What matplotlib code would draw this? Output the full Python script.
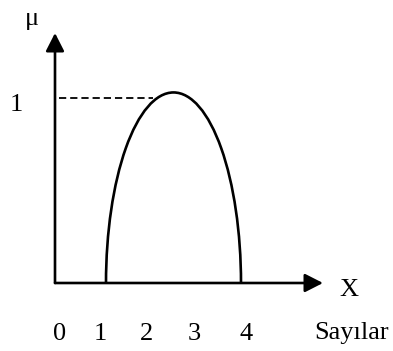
import matplotlib
matplotlib.use("Agg")
import matplotlib.pyplot as plt
from matplotlib.patches import Arc

# Data
x_tick_labels = ["0", "1", "2", "3", "4"]
support_left = 1.0
support_right = 4.0
peak_mu = 1.03
mu_level = 1.0
y_axis_label = "\u03bc"
x_axis_label = "X"
x_name = "Say\u0131lar"

# Layout (pixel mapping: x_px = 61 + 45*x, y_px = 283 - 185*y)
W, H = 393, 351
fig = plt.figure(figsize=(W / 100, H / 100), dpi=100)
ax = fig.add_axes([0, 0, 1, 1])
ax.set_xlim((0 - 61) / 45, (W - 61) / 45)
ax.set_ylim((283 - H) / 185, 283 / 185)
ax.axis("off")


def px_x(p):
    return (p - 61) / 45


def px_y(p):
    return (283 - p) / 185


serif = ["Liberation Serif", "DejaVu Serif"]
fs = 19
y_axis_x = px_x(55)
y_top = px_y(33)
x_right = px_x(323)

# axes with arrows
arrow_kw = dict(arrowstyle="-|>,head_length=0.55,head_width=0.28", color="black",
                lw=1.9, mutation_scale=20, shrinkA=0, shrinkB=0)
ax.annotate("", xy=(y_axis_x, y_top), xytext=(y_axis_x, 0), arrowprops=arrow_kw)
ax.annotate("", xy=(x_right, 0), xytext=(y_axis_x, 0), arrowprops=arrow_kw)

# membership curve (elliptical arc)
center = (support_left + support_right) / 2
arc = Arc((center, 0), width=support_right - support_left, height=2 * peak_mu,
          theta1=0, theta2=180, color="black", lw=1.9)
ax.add_patch(arc)

# dashed level line
ax.plot([y_axis_x + 0.1, 2.05], [mu_level, mu_level], color="black", lw=1.3,
        linestyle=(0, (4, 2.2)))

# labels
ax.text(px_x(31.5), px_y(25), y_axis_label, fontsize=fs, family=serif,
        ha="center", va="baseline")
ax.text(px_x(16.5), px_y(111), "1", fontsize=fs, family=serif,
        ha="center", va="baseline")
ax.text(px_x(348.5), px_y(296), x_axis_label, fontsize=fs, family=serif,
        ha="center", va="baseline")

tick_px = [60, 100, 147, 194, 246]
label_base = px_y(340)
for lab, p in zip(x_tick_labels, tick_px):
    ax.text(px_x(p), label_base, lab, fontsize=fs, family=serif,
            ha="center", va="baseline")
ax.text(px_x(351.5), px_y(339), x_name, fontsize=fs, family=serif,
        ha="center", va="baseline")

fig.savefig("out.png", dpi=100)
